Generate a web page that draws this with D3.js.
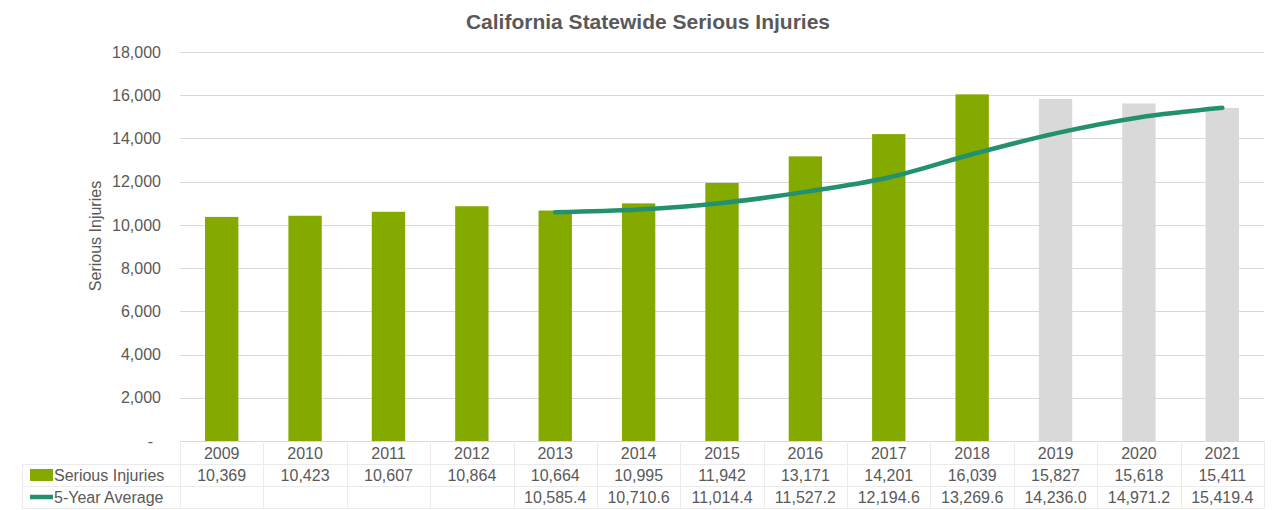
<!DOCTYPE html>
<html><head><meta charset="utf-8">
<script src="https://cdn.jsdelivr.net/npm/d3@7"></script>
<style>body{margin:0;background:#fff}svg{display:block}text{font-family:"Liberation Sans",Arial,sans-serif}</style>
</head><body><svg id="c" width="1280" height="510"></svg>
<script>
const years = ["2009","2010","2011","2012","2013","2014","2015","2016","2017","2018","2019","2020","2021"];
const injuries = [10369,10423,10607,10864,10664,10995,11942,13171,14201,16039,15827,15618,15411];
const injuryLabels = ["10,369","10,423","10,607","10,864","10,664","10,995","11,942","13,171","14,201","16,039","15,827","15,618","15,411"];
const avg = [null,null,null,null,10585.4,10710.6,11014.4,11527.2,12194.6,13269.6,14236.0,14971.2,15419.4];
const avgLabels = ["","","","","10,585.4","10,710.6","11,014.4","11,527.2","12,194.6","13,269.6","14,236.0","14,971.2","15,419.4"];
const projected = [false,false,false,false,false,false,false,false,false,false,true,true,true];
const yTicks = [0,2000,4000,6000,8000,10000,12000,14000,16000,18000];

const svg = d3.select("#c");
const pLeft = 180, pRight = 1264, pTop = 52, pBottom = 441;
const x = d3.scaleBand().domain(years).range([pLeft, pRight]).paddingInner(0.6).paddingOuter(0.3);
const xc = d => x(d) + x.bandwidth()/2;
const y = d3.scaleLinear().domain([0,18000]).range([pBottom, pTop]);
const grid = "#d9d9d9", txt = "#595959";

// title
svg.append("text").attr("x",648).attr("y",29).attr("text-anchor","middle")
  .attr("font-size",21).attr("font-weight","bold").attr("fill",txt)
  .text("California Statewide Serious Injuries");

// gridlines
svg.append("g").selectAll("line").data(yTicks.filter(d=>d>0)).join("line")
  .attr("x1",pLeft).attr("x2",pRight).attr("y1",d=>Math.round(y(d))+0.5).attr("y2",d=>Math.round(y(d))+0.5)
  .attr("stroke",grid).attr("stroke-width",1);

// y axis labels
const yAxis = d3.axisLeft(y).tickValues(yTicks).tickSize(0).tickPadding(0)
  .tickFormat(d => d===0 ? "-" : d3.format(",")(d));
const ga = svg.append("g").attr("transform",`translate(161,0)`).call(yAxis);
ga.select(".domain").remove();
ga.selectAll("text").attr("font-size",16).attr("fill",txt).attr("font-family","Liberation Sans, Arial, sans-serif");
ga.selectAll(".tick").filter(d=>d===0).select("text").attr("dx",-8);

// axis title
svg.append("text").attr("transform","translate(101,236) rotate(-90)").attr("text-anchor","middle")
  .attr("font-size",16).attr("fill",txt).text("Serious Injuries");

// bars
svg.append("g").selectAll("rect").data(years).join("rect")
  .attr("x",d=>x(d)).attr("width",x.bandwidth())
  .attr("y",(d,i)=>y(injuries[i])).attr("height",(d,i)=>y(0)-y(injuries[i]))
  .attr("fill",(d,i)=>projected[i] ? "#d9d9d9" : "#84aa00");

// line
const pts = years.map((d,i)=>[xc(d), avg[i]]).filter(p=>p[1]!==null);
svg.append("path").datum(pts)
  .attr("d", d3.line().x(p=>p[0]).y(p=>y(p[1])).curve(d3.curveCatmullRom.alpha(0.5)))
  .attr("fill","none").attr("stroke","#23916f").attr("stroke-width",4.5).attr("stroke-linecap","round");

// data table
const tl = "#ebebeb";
const tbl = svg.append("g");
tbl.append("line").attr("x1",pLeft).attr("x2",pRight).attr("y1",441.5).attr("y2",441.5).attr("stroke",grid);
[464.5,486.5].forEach(yy=>tbl.append("line").attr("x1",22).attr("x2",pRight).attr("y1",yy).attr("y2",yy).attr("stroke",tl));
tbl.append("line").attr("x1",22).attr("x2",pRight).attr("y1",508.5).attr("y2",508.5).attr("stroke",tl);
const bounds = years.map(d=>x(d)-x.step()*x.paddingInner()/2);
bounds.push(pRight);
tbl.selectAll("line.v").data(bounds).join("line").attr("class","v")
  .attr("x1",d=>Math.round(d)+0.5).attr("x2",d=>Math.round(d)+0.5).attr("y1",441).attr("y2",508).attr("stroke",tl);
tbl.append("line").attr("x1",22.5).attr("x2",22.5).attr("y1",464).attr("y2",508).attr("stroke",tl);

tbl.selectAll("text.yr").data(years).join("text").attr("class","yr")
  .attr("x",d=>xc(d)).attr("y",459).attr("text-anchor","middle").attr("font-size",16).attr("fill",txt).text(d=>d);
tbl.selectAll("text.inj").data(injuryLabels).join("text").attr("class","inj")
  .attr("x",(d,i)=>xc(years[i])).attr("y",481).attr("text-anchor","middle").attr("font-size",16).attr("fill",txt).text(d=>d);
tbl.selectAll("text.avg").data(avgLabels).join("text").attr("class","avg")
  .attr("x",(d,i)=>xc(years[i])).attr("y",503).attr("text-anchor","middle").attr("font-size",16).attr("fill",txt).text(d=>d);

// legend keys
tbl.append("rect").attr("x",30).attr("y",469).attr("width",23).attr("height",12).attr("fill","#84aa00");
tbl.append("text").attr("x",54).attr("y",481).attr("font-size",16).attr("fill",txt).text("Serious Injuries");
tbl.append("line").attr("x1",30).attr("x2",53).attr("y1",497).attr("y2",497).attr("stroke","#23916f").attr("stroke-width",4.5);
tbl.append("text").attr("x",54).attr("y",503).attr("font-size",16).attr("fill",txt).text("5-Year Average");
</script></body></html>
